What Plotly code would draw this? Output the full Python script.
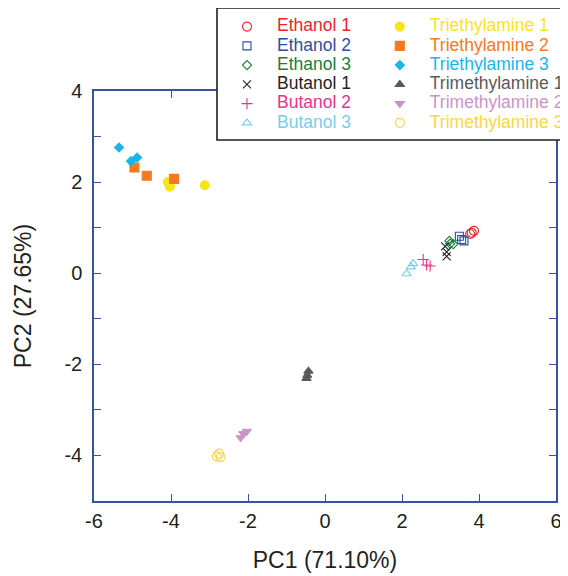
import plotly.graph_objects as go

# Series names (legend: column 1 = first six, column 2 = last six)
names = ["Ethanol 1", "Ethanol 2", "Ethanol 3", "Butanol 1", "Butanol 2", "Butanol 3",
         "Triethylamine 1", "Triethylamine 2", "Triethylamine 3",
         "Trimethylamine 1", "Trimethylamine 2", "Trimethylamine 3"]

# PC1 / PC2 scores (three replicates per sample)
ethanol1_x = [3.77, 3.81, 3.87]
ethanol1_y = [0.86, 0.89, 0.93]
ethanol2_x = [3.49, 3.55, 3.61]
ethanol2_y = [0.81, 0.74, 0.71]
ethanol3_x = [3.23, 3.25, 3.33]
ethanol3_y = [0.71, 0.65, 0.64]
butanol1_x = [3.12, 3.16, 3.16]
butanol1_y = [0.59, 0.47, 0.37]
butanol2_x = [2.55, 2.64, 2.73]
butanol2_y = [0.30, 0.18, 0.16]
butanol3_x = [2.29, 2.23, 2.12]
butanol3_y = [0.21, 0.14, -0.01]
triethyl1_x = [-4.08, -4.03, -3.12]
triethyl1_y = [2.00, 1.90, 1.93]
triethyl2_x = [-4.95, -4.63, -3.92]
triethyl2_y = [2.32, 2.14, 2.07]
triethyl3_x = [-5.35, -5.04, -4.88]
triethyl3_y = [2.76, 2.46, 2.54]
trimethyl1_x = [-0.43, -0.46, -0.48]
trimethyl1_y = [-2.15, -2.24, -2.31]
trimethyl2_x = [-2.03, -2.12, -2.19]
trimethyl2_y = [-3.47, -3.52, -3.61]
trimethyl3_x = [-2.81, -2.71, -2.75]
trimethyl3_y = [-4.02, -4.04, -3.96]

# Tick labels (plain hyphen minus as in the reference)
x_tickvals = [-6, -4, -2, 0, 2, 4, 6]
x_ticktext = ["-6", "-4", "-2", "0", "2", "4", "6"]
y_tickvals = [-4, -2, 0, 2, 4]
y_ticktext = ["-4", "-2", "0", "2", "4"]

xs = [ethanol1_x, ethanol2_x, ethanol3_x, butanol1_x, butanol2_x, butanol3_x,
      triethyl1_x, triethyl2_x, triethyl3_x, trimethyl1_x, trimethyl2_x, trimethyl3_x]
ys = [ethanol1_y, ethanol2_y, ethanol3_y, butanol1_y, butanol2_y, butanol3_y,
      triethyl1_y, triethyl2_y, triethyl3_y, trimethyl1_y, trimethyl2_y, trimethyl3_y]

colors = ["#e8262a", "#2f4da0", "#1b7d3d", "#231f20", "#e8338b", "#79cdeb",
          "#f7e51a", "#f47a20", "#1cb5ea", "#5a5a5c", "#c995c8", "#f8d54a"]
symbols = ["circle-open", "square-open", "diamond-open", "x-thin-open", "cross-thin-open",
           "triangle-up-open", "circle", "square", "diamond", "triangle-up",
           "triangle-down", "circle-open"]
sizes = [9, 8, 7, 8, 8, 8, 9, 9, 7, 8, 8, 9]

font_main = "Arial, Liberation Sans, sans-serif"

fig = go.Figure()
for i, name in enumerate(names):
    label = '<span style="color:%s;font-size:17.5px">%s</span>' % (colors[i], name)
    fig.add_trace(go.Scatter(
        x=xs[i], y=ys[i], mode="markers", name=label,
        legend="legend" if i < 6 else "legend2",
        marker=dict(symbol=symbols[i], color=colors[i], size=sizes[i],
                    line=dict(color=colors[i], width=1.1)),
    ))

axis_blue = "#3853a4"
legend_common = dict(
    orientation="v", yanchor="top", xanchor="left", itemwidth=50,
    bgcolor="rgba(0,0,0,0)", borderwidth=0,
    font=dict(family=font_main, size=12.5), itemsizing="trace", tracegroupgap=0,
)

fig.update_layout(
    width=560, height=568,
    margin=dict(l=86, r=12, t=83, b=75, autoexpand=False),
    paper_bgcolor="white", plot_bgcolor="white",
    font=dict(family=font_main, color="#231f20", size=20),
    showlegend=True,
    legend=dict(x=0.2662, y=1.1927, **legend_common),
    legend2=dict(x=0.597, y=1.1927, **legend_common),
    shapes=[dict(type="rect", xref="paper", yref="paper",
                 x0=0.2662, x1=1.2, y0=0.8805, y1=1.2024,
                 line=dict(color="#231f20", width=1.6), fillcolor="white",
                 layer="above")],
    xaxis=dict(
        range=[-6, 6], tickmode="array", tickvals=x_tickvals, ticktext=x_ticktext,
        showgrid=False, zeroline=False,
        showline=True, linecolor=axis_blue, linewidth=1.5, mirror="ticks",
        ticks="inside", ticklen=7, tickcolor=axis_blue, tickwidth=1.2,
        tickfont=dict(size=20), ticklabelstandoff=1,
        title=dict(text="PC1 (71.10%)", font=dict(size=23), standoff=21),
    ),
    yaxis=dict(
        range=[-5, 4], tickmode="array", tickvals=y_tickvals, ticktext=y_ticktext,
        showgrid=False, zeroline=False,
        showline=True, linecolor=axis_blue, linewidth=1.5, mirror="ticks",
        ticks="inside", ticklen=7, tickcolor=axis_blue, tickwidth=1.2,
        minor=dict(dtick=1, tick0=0, ticks="inside", ticklen=7, tickcolor=axis_blue,
                   tickwidth=1.2),
        tickfont=dict(size=20), ticklabelstandoff=6,
        title=dict(text="PC2 (27.65%)", font=dict(size=23), standoff=26),
    ),
)

fig.write_html("out.html")
